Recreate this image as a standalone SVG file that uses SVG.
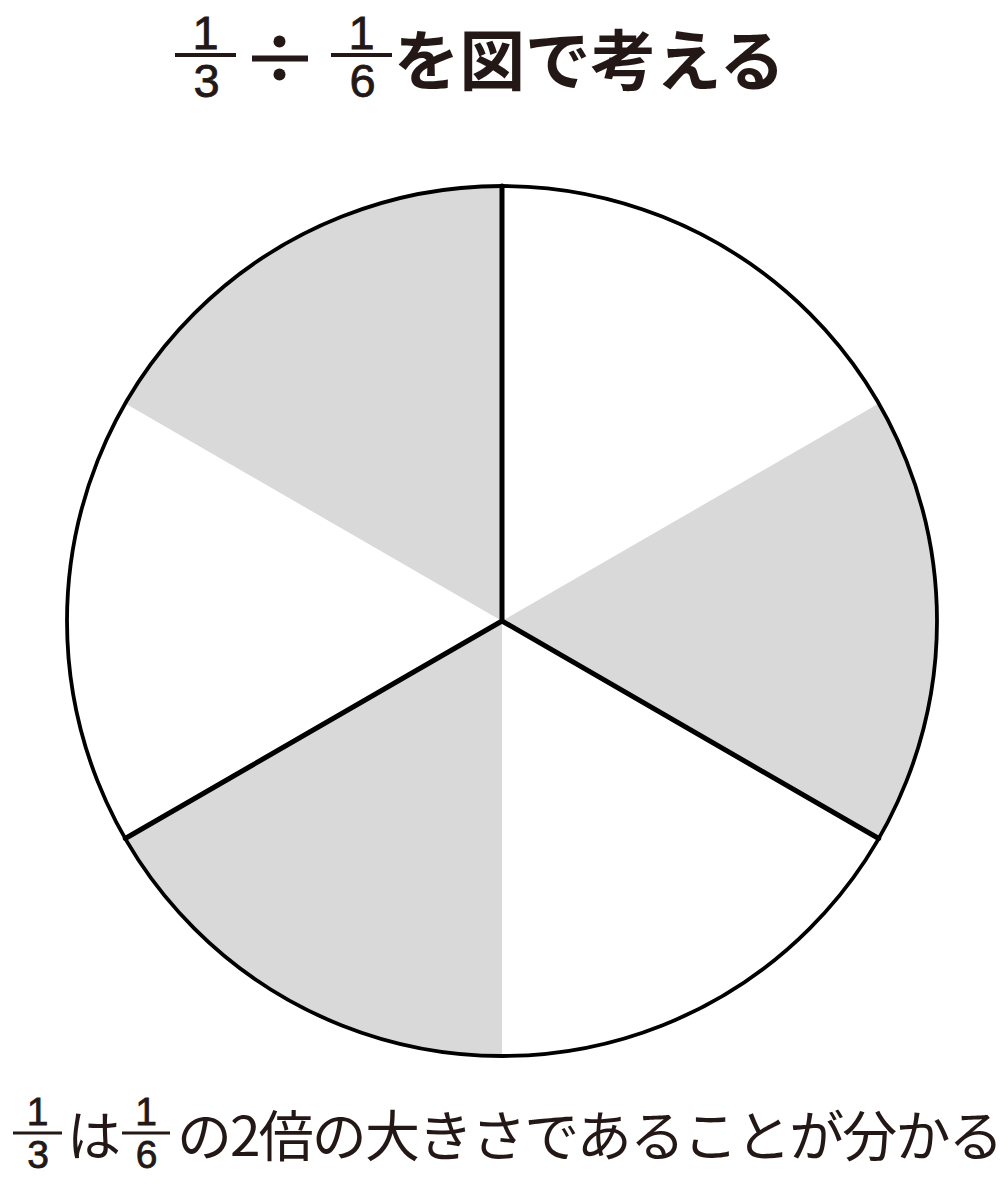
<svg xmlns="http://www.w3.org/2000/svg" width="1008" height="1186" viewBox="0 0 1008 1186">
<style>
.jp{font-family:"Noto Sans CJK JP","Noto Sans CJK SC",sans-serif;fill:#231815}
.num{font-family:"Liberation Sans",Arial,sans-serif;font-weight:400;fill:#231815;text-anchor:middle;stroke:#231815;stroke-width:0.8}
.bar{stroke:#231815;fill:none}
.gray{fill:#d9d9d9;stroke:none}
.div{stroke:#000;stroke-width:5;fill:none;stroke-linecap:round;stroke-linejoin:miter}
</style>
<rect width="1008" height="1186" fill="#fff"/>
<g id="title">
  <text class="num" x="205.5" y="49" font-size="47">1</text>
  <line class="bar" x1="175" y1="55" x2="236" y2="55" stroke-width="4"/>
  <text class="num" x="206.5" y="97" font-size="47">3</text>
  <line class="bar" x1="252" y1="58.5" x2="308" y2="58.5" stroke-width="6"/>
  <circle cx="279.5" cy="41.5" r="6" fill="#231815"/>
  <circle cx="279.5" cy="74.5" r="6" fill="#231815"/>
  <text class="num" x="361.5" y="49" font-size="47">1</text>
  <line class="bar" x1="331" y1="55" x2="392" y2="55" stroke-width="4"/>
  <text class="num" x="362.5" y="97" font-size="47">6</text>
  <text class="jp" x="394" y="85" font-size="65.5" font-weight="700">を図で考える</text>
</g>
<g id="pie">
  <path class="gray" d="M502,621 L125.28,403.5 A435,435 0 0 1 502,186 Z"/>
  <path class="gray" d="M502,621 L878.72,403.5 A435,435 0 0 1 878.72,838.5 Z"/>
  <path class="gray" d="M502,621 L502,1056 A435,435 0 0 1 125.28,838.5 Z"/>
  <path class="div" d="M502,186 L502,621 L878.72,838.5 M502,621 L125.28,838.5"/>
  <circle cx="502" cy="621" r="435" fill="none" stroke="#000" stroke-width="3.8"/>
</g>
<g id="caption">
  <text class="num" x="37.5" y="1125" font-size="39">1</text>
  <line class="bar" x1="13" y1="1133" x2="62" y2="1133" stroke-width="3"/>
  <text class="num" x="38" y="1168" font-size="39">3</text>
  <text class="jp" x="67" y="1156" font-size="54">は</text>
  <text class="num" x="146" y="1125" font-size="39">1</text>
  <line class="bar" x1="122" y1="1133" x2="170" y2="1133" stroke-width="3"/>
  <text class="num" x="146.5" y="1168" font-size="39">6</text>
  <text class="jp" x="177" y="1156" font-size="55" letter-spacing="-1.9">の2倍の大きさであることが分かる</text>
</g>
</svg>
